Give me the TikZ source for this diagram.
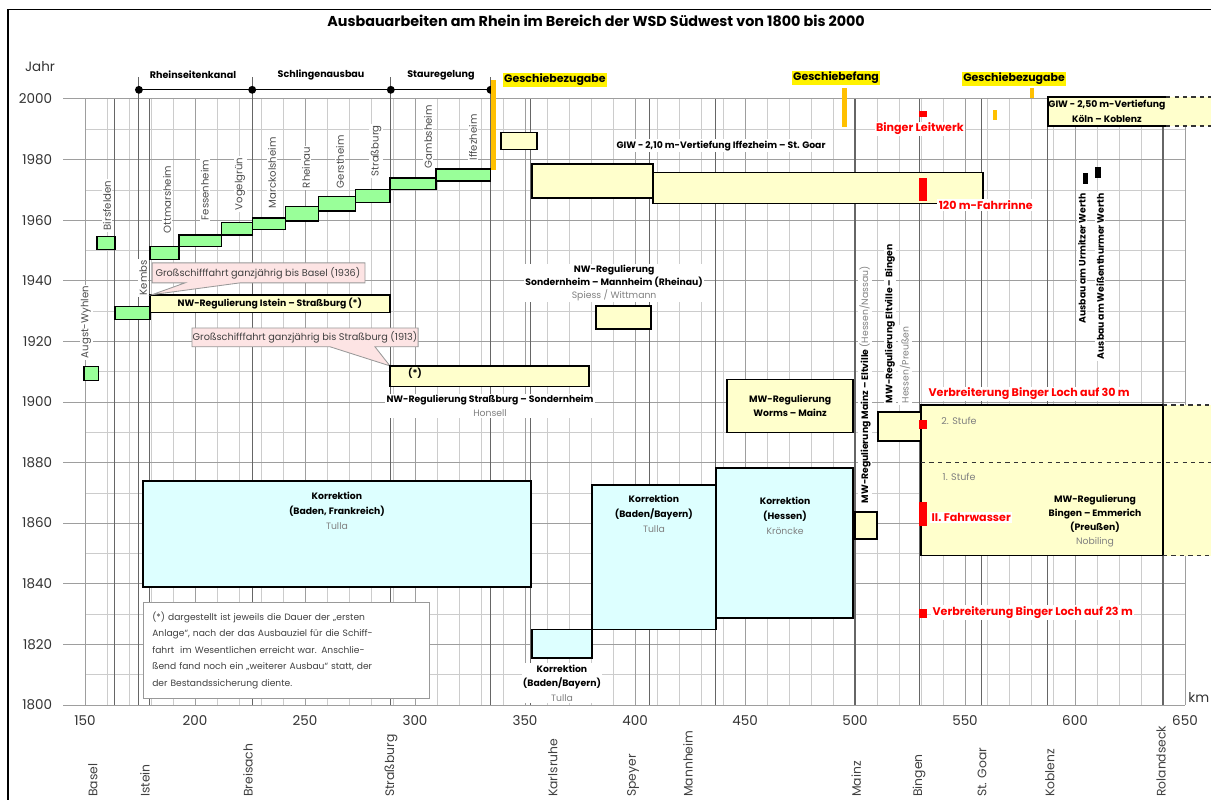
\documentclass[tikz,border=0pt]{standalone}
\usepackage{fontspec}
\setmainfont{Poppins}
\usepackage{xcolor}
\usetikzlibrary{positioning}

\definecolor{stgreen}{HTML}{99FF99}
\definecolor{paleyel}{HTML}{FFFFCC}
\definecolor{palecyan}{HTML}{DDFFFF}
\definecolor{kiesorange}{HTML}{FFC000}
\definecolor{callpink}{HTML}{FDE4E4}

\begin{document}
\begin{tikzpicture}[x=0.055cm, y=0.07575cm,
		gridthin/.style={draw=black!20, line width=0.45pt},
		gridmid/.style={draw=black!38, line width=0.6pt},
		gridloc/.style={draw=black!60, line width=0.75pt},
		stufe/.style={draw=black, fill=stgreen, line width=0.9pt},
		regbox/.style={draw=black, fill=paleyel, line width=0.9pt},
		korbox/.style={draw=black, fill=palecyan, line width=0.9pt},
		callout/.style={draw=black!40, fill=callpink, line width=0.6pt},
		boxtxt/.style={font=\fontsize{6.6}{10.5}\selectfont\bfseries, align=center, inner sep=1pt},
		kopf/.style={font=\fontsize{6.8}{8}\selectfont\bfseries},
		marke/.style={font=\fontsize{7.8}{9}\selectfont\bfseries, fill=yellow, inner sep=1pt},
		werk/.style={font=\fontsize{7.2}{8}\selectfont, text=black!70, fill=white, inner sep=1pt, rotate=90, anchor=west},
		ort/.style={font=\fontsize{8.8}{9}\selectfont, text=black!75, rotate=90, anchor=west, inner sep=0pt},
		achse/.style={font=\fontsize{9.6}{10}\selectfont, text=black!80},
		rot/.style={font=\fontsize{7.9}{9}\selectfont\bfseries, text=red, fill=white, inner sep=1pt},
		hinweis/.style={font=\fontsize{6.9}{8}\selectfont, text=black!75},
		anm/.style={draw=black!40, fill=white, line width=0.6pt, text width=6.7cm, minimum height=2.4cm,
			inner xsep=0.22cm, align=left, font=\fontsize{6.5}{11.7}\selectfont, text=black!75}]
	% page: x = Rhein-km, y = Jahr
	\useasboundingbox (111.36,1768.65) rectangle (661.82,2032.67);
	\draw[black, line width=0.8pt] (661.82,2029.37) -- (115,2029.37) -- (115,1768.65);
	\node[font=\fontsize{10.2}{11}\selectfont\bfseries] (titel) at (382.3,2025.7)
	{Ausbauarbeiten am Rhein im Bereich der WSD Südwest von 1800 bis 2000};
	% grid
	\foreach \k in {150,160,...,650} \draw[gridthin] (\k,1800) -- (\k,2000);
	\foreach \j in {1810,1830,...,1990} \draw[gridthin] (150,\j) -- (650,\j);
	\foreach \k in {150,200,...,650} \draw[gridmid] (\k,1800) -- (\k,2000);
	\foreach \j in {1800,1820,...,2000} \draw[gridmid] (140,\j) -- (650,\j);
	\foreach \k in {163.6,174.5,179.5,226,289,334.3,352.6,406.8,436.8,500,529.5,557.7,587.7,640}
	\draw[gridloc] (\k,1800) -- (\k,2000);
	% axes labels
	\node[achse, anchor=west] (jahr) at (120.5,2010.6) {Jahr};
	\node[achse, anchor=east, inner xsep=1pt] (kmlbl) at (661.82,1802.6) {km};
	\foreach \j in {1800,1820,...,2000}
	\node[achse, anchor=east] (jy\j) at (137.3,\j) {\j};
	\foreach \k in {150,200,...,650}
	\node[achse] (kx\k) at (\k,1795) {\k};
	% river towns
	\foreach \x/\ort [count=\i] in {153.6/Basel, 177.3/Istein, 224.1/Breisach, 289.1/Straßburg,
		362.7/Karlsruhe, 399.1/Speyer, 424.1/Mannheim, 500.5/Mainz, 529.1/Bingen,
		557.7/St. Goar, 588.6/Koblenz, 639.1/Rolandseck}
	\node[ort] (ort\i) at (\x,1769.6) {\ort};
	% head: Rheinseitenkanal / Schlingenausbau / Stauregelung
	\foreach \k in {174.5,226,289,334.3} \draw[gridloc] (\k,2000) -- (\k,2007.3);
	\draw[black, line width=0.9pt] (174.5,2003) -- (334.3,2003);
	\foreach \k in {174.5,226,289,334.3} \fill (\k,2003) circle (2.8pt);
	\node[kopf] (kanal) at (199.1,2007.9) {Rheinseitenkanal};
	\node[kopf] (schlinge) at (257.3,2007.9) {Schlingenausbau};
	\node[kopf] (stau) at (311.8,2007.9) {Stauregelung};
	% Staustufen (green steps)
	\foreach \a/\b/\c/\d/\lx/\ly/\name [count=\i] in {
		149.5/1907/156/1911.6/150.5/1913.9/Augst-Wyhlen,
		155.5/1950.2/163.6/1954.5/160/1956.1/Birsfelden,
		163.6/1927.1/179.5/1931.4/176.4/1934.7/Kembs,
		179.5/1946.9/192.7/1951.2/187.3/1955.1/Ottmarsheim,
		192.7/1951.2/212/1955.1/204.5/1959.4/Fessenheim,
		212/1955.1/226/1959.1/220.5/1962.7/Vogelgrün,
		226/1956.8/241/1960.7/235/1963.4/Marckolsheim,
		241/1959.7/256/1964.4/250.5/1970/Rheinau,
		256/1963/273/1967.7/265.9/1970/Gerstheim,
		273/1965.7/288.6/1970/282.3/1973.9/Straßburg,
		288.6/1970/309.5/1973.9/305.9/1976.6/Gambsheim,
		309.5/1972.9/334.3/1976.9/326.4/1979.2/Iffezheim}{
		\draw[stufe] (\a,\b) rectangle (\c,\d);
		\node[werk] (werk\i) at (\lx,\ly) {\name};
	}
	% Geschiebe
	\fill[kiesorange] (334.5,1976.6) rectangle (336.8,2006.3);
	\fill[kiesorange] (494.1,1990.8) rectangle (496.4,2003.6);
	\fill[kiesorange] (579.5,2000.3) rectangle (581.4,2003.6);
	\fill[kiesorange] (562.7,1993.1) rectangle (564.5,1996.4);
	\node[marke] (zugabe1) at (363.6,2006.3) {Geschiebezugabe};
	\node[marke] (fang) at (491.4,2006.9) {Geschiebefang};
	\node[marke] (zugabe2) at (572.3,2006.6) {Geschiebezugabe};
	% GIW deepening
	\draw[regbox] (339.1,1983.2) rectangle (355.5,1988.8);
	\draw[regbox] (353.2,1967.3) rectangle (408.2,1978.5);
	\draw[regbox] (408.2,1965.4) rectangle (558.2,1975.6);
	\node[boxtxt, fill=white] (giw1) at (439.1,1984.5)
	{GIW - 2,10 m-Vertiefung Iffezheim – St. Goar};
	\fill[paleyel] (587.7,1991.1) rectangle (661.82,2000.6);
	\draw[black, line width=0.9pt] (641.4,2000.6) -- (587.7,2000.6) -- (587.7,1991.1) -- (641.4,1991.1);
	\draw[black!80, line width=0.9pt, dashed] (641.4,2000.6) -- (661.82,2000.6)
	(641.4,1991.1) -- (661.82,1991.1);
	\node[boxtxt] (giw2) at (614.5,1996) {GIW - 2,50 m-Vertiefung\\Köln – Koblenz};
	% Binger Loch, Fahrrinne (red)
	\fill[red] (529.1,1994.1) rectangle (532.7,1996);
	\fill[red] (529.1,1966.3) rectangle (532.7,1973.9);
	\node[rot] (leitwerk) at (529.5,1990.1) {Binger Leitwerk};
	\node[rot, anchor=west] (rinne) at (537.3,1965) {120 m-Fahrrinne};
	% Urmitzer / Weissenthurmer Werth
	\fill (603.6,1972) rectangle (605.9,1975.6);
	\fill (609.1,1974) rectangle (611.8,1977.6);
	\node[boxtxt, fill=white, rotate=90, anchor=east] (urmitz) at (603.2,1969.3)
	{Ausbau am Urmitzer Werth};
	\node[boxtxt, fill=white, rotate=90, anchor=east] (weiss) at (611.4,1969.3)
	{Ausbau am Weißenthurmer Werth};
	% NW-Regulierung Istein - Strassburg and notes
	\draw[regbox] (179.5,1929.4) rectangle (288.6,1935.3);
	\node[boxtxt] (istein) at (234,1932.4) {NW-Regulierung Istein – Straßburg (*)};
	\draw[callout] (180.5,1945.9) -- (277.3,1945.9) -- (277.3,1939.3) -- (220.5,1939.3)
	-- (180.5,1935.4) -- (195.5,1939.3) -- (180.5,1939.3) -- cycle;
	\node[hinweis] (basel36) at (228.6,1942.6) {Großschifffahrt ganzjährig bis Basel (1936)};
	\draw[callout] (198.6,1924.4) -- (301.4,1924.4) -- (301.4,1918.2) -- (281.8,1918.2)
	-- (288.6,1911.9) -- (261.4,1918.2) -- (198.6,1918.2) -- cycle;
	\node[hinweis] (strb13) at (250,1921.3) {Großschifffahrt ganzjährig bis Straßburg (1913)};
	% NW-Regulierung Strassburg - Sondernheim
	\draw[regbox] (288.6,1905) rectangle (379.1,1911.9);
	\node[boxtxt] (stern) at (300,1909.6) {(*)};
	\node[boxtxt, fill=white, font=\fontsize{6.6}{10}\selectfont\bfseries] (sondern) at (334.1,1898.7)
	{NW-Regulierung Straßburg – Sondernheim\\{\mdseries\color{black!50}Honsell}};
	% NW-Regulierung Sondernheim - Mannheim
	\draw[regbox] (382.3,1924.1) rectangle (407.3,1931.7);
	\node[boxtxt, fill=white, font=\fontsize{6.6}{9}\selectfont\bfseries] (rheinau) at (390.5,1939.3)
	{NW-Regulierung\\Sondernheim – Mannheim (Rheinau)\\{\mdseries\color{black!50}Spiess / Wittmann}};
	% MW-Regulierung Worms - Mainz
	\draw[regbox] (441.8,1889.8) rectangle (499.1,1907.3);
	\node[boxtxt] (worms) at (470.5,1898.7) {MW-Regulierung\\Worms – Mainz};
	% Korrektion (Tulla, Kroencke)
	\draw[korbox] (176.4,1838.9) rectangle (352.7,1873.9);
	\node[boxtxt] (kor1) at (264.5,1864)
	{Korrektion\\(Baden, Frankreich)\\{\mdseries\color{black!50}Tulla}};
	\draw[korbox] (353.2,1815.5) rectangle (380.5,1824.8);
	\node[boxtxt, fill=white] (kor2) at (366.8,1807.2)
	{Korrektion\\(Baden/Bayern)\\{\mdseries\color{black!50}Tulla}};
	\draw[korbox] (380.5,1824.8) rectangle (436.8,1872.6);
	\node[boxtxt] (kor3) at (408.6,1863)
	{Korrektion\\(Baden/Bayern)\\{\mdseries\color{black!50}Tulla}};
	\draw[korbox] (436.8,1828.7) rectangle (499.1,1878.2);
	\node[boxtxt] (kor4) at (468.2,1862.4)
	{Korrektion\\(Hessen)\\{\mdseries\color{black!50}Kröncke}};
	% MW-Regulierung Mainz - Eltville - Bingen
	\draw[regbox] (500,1854.8) rectangle (510,1863.7);
	\node[boxtxt, fill=white, rotate=90, anchor=west] (eltville) at (504.5,1866)
	{MW-Regulierung Mainz – Eltville {\mdseries\color{black!50}(Hessen/Nassau)}};
	\draw[regbox] (510.5,1887.1) rectangle (530,1896.7);
	\node[boxtxt, fill=white, rotate=90, anchor=west] (eltbing) at (515.9,1899)
	{MW-Regulierung Eltville – Bingen};
	\node[boxtxt, fill=white, rotate=90, anchor=west, font=\fontsize{6.6}{8}\selectfont, text=black!50]
	(hespr) at (522.7,1899) {Hessen/Preußen};
	% MW-Regulierung Bingen - Emmerich
	\fill[paleyel] (640,1849.2) rectangle (661.82,1899);
	\draw[regbox] (530,1849.2) rectangle (640,1899);
	\draw[black!80, line width=0.9pt, dashed] (640,1899) -- (661.82,1899)
	(640,1849.2) -- (661.82,1849.2) (530,1880) -- (661.82,1880);
	\node[boxtxt, font=\fontsize{6.8}{8}\selectfont, text=black!50] (stufe2) at (547.3,1893.7) {2. Stufe};
	\node[boxtxt, font=\fontsize{6.8}{8}\selectfont, text=black!50] (stufe1) at (547.3,1875.2) {1. Stufe};
	\node[boxtxt, font=\fontsize{6.6}{10}\selectfont\bfseries] (emmerich) at (609.1,1860.7)
	{MW-Regulierung\\Bingen – Emmerich\\(Preußen)\\{\mdseries\color{black!50}Nobiling}};
	\fill[red] (529.1,1891.1) rectangle (532.7,1894.1);
	\fill[red] (529.1,1859.1) rectangle (532.7,1867);
	\fill[red] (529.1,1828.7) rectangle (532.7,1831.7);
	\node[rot, anchor=west] (loch30) at (532.7,1902.6) {Verbreiterung Binger Loch auf 30 m};
	\node[rot, anchor=west] (fahrw) at (534.1,1862) {II. Fahrwasser};
	\node[rot, anchor=west] (loch23) at (534.5,1830.4) {Verbreiterung Binger Loch auf 23 m};
	% footnote
	\node[anm, anchor=north west] (anm) at (176.4,1834)
	{(*) dargestellt ist jeweils die Dauer der „ersten\\
		Anlage“, nach der das Ausbauziel für die Schiff-\\
		fahrt\ \ im Wesentlichen erreicht war. Anschlie-\\
		ßend fand noch ein „weiterer Ausbau“ statt, der\\
		der Bestandssicherung diente.};
\end{tikzpicture}
\end{document}
